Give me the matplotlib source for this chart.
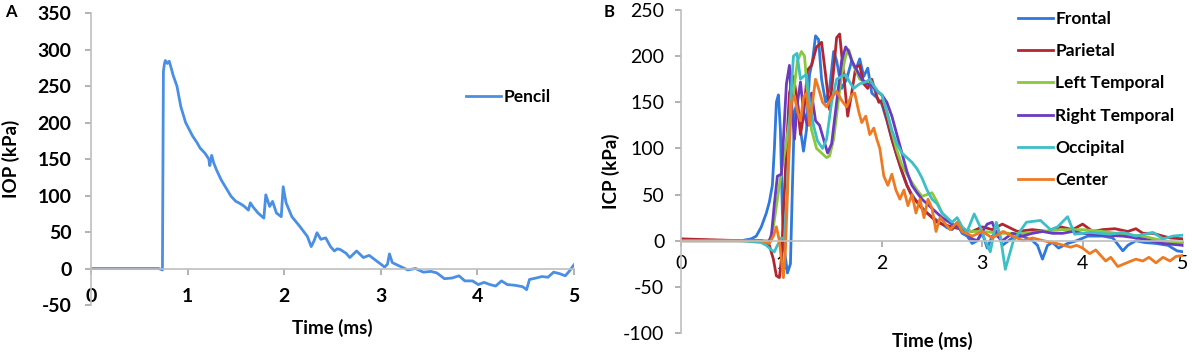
import matplotlib
matplotlib.use("Agg")
import matplotlib.pyplot as plt

plt.rcParams['font.family'] = ['Lato', 'DejaVu Sans']
plt.rcParams['axes.unicode_minus'] = False

# ---- panel A: intraocular pressure, pencil ----
pencil_t = [0, 0.5, 0.7, 0.74, 0.75, 0.76, 0.77, 0.79, 0.81, 0.83, 0.85, 0.89, 0.93, 0.98, 1.05,
            1.1, 1.13, 1.18, 1.22, 1.23, 1.25, 1.27, 1.3, 1.35, 1.4, 1.45, 1.5, 1.53, 1.58, 1.63,
            1.65, 1.68, 1.73, 1.79, 1.81, 1.85, 1.88, 1.92, 1.97, 1.99, 2.02, 2.08, 2.16, 2.24,
            2.28, 2.31, 2.34, 2.38, 2.43, 2.48, 2.52, 2.55, 2.58, 2.64, 2.68, 2.75, 2.82, 2.88,
            2.96, 3.04, 3.07, 3.09, 3.12, 3.2, 3.28, 3.36, 3.44, 3.52, 3.58, 3.66, 3.74, 3.81,
            3.87, 3.95, 4.01, 4.07, 4.13, 4.19, 4.25, 4.31, 4.39, 4.47, 4.51, 4.54, 4.61, 4.67,
            4.73, 4.79, 4.85, 4.91, 4.95, 5.0]
pencil_v = [0, 0, 0, -2, 270, 280, 285, 281, 284, 275, 265, 250, 222, 200, 182,
            172, 165, 158, 150, 141, 155, 145, 135, 121, 110, 99, 92, 90, 86, 80,
            90, 84, 76, 69, 101, 85, 92, 76, 71, 112, 90, 71, 58, 44,
            30, 38, 49, 40, 42, 30, 24, 27, 26, 21, 15, 24, 15, 18,
            10, 2, 6, 20, 8, 3, -2, 0, -5, -4, -6, -14, -13, -10,
            -17, -17, -22, -19, -22, -24, -17, -22, -23, -25, -29, -15, -13, -11,
            -12, -5, -7, -10, -4, 5]

# ---- panel B: intracranial pressure, six locations ----
frontal_t = [0, 0.3, 0.6, 0.7, 0.75, 0.8, 0.85, 0.88, 0.91, 0.93, 0.95, 0.97, 0.99, 1.01, 1.03,
             1.06, 1.09, 1.11, 1.13, 1.16, 1.19, 1.22, 1.25, 1.28, 1.31, 1.34, 1.37, 1.4, 1.44,
             1.48, 1.52, 1.55, 1.6, 1.65, 1.7, 1.74, 1.78, 1.82, 1.86, 1.9, 1.95, 2.0, 2.05,
             2.1, 2.15, 2.2, 2.25, 2.3, 2.35, 2.4, 2.45, 2.5, 2.55, 2.6, 2.65, 2.7, 2.75, 2.8,
             2.85, 2.9, 2.95, 3.0, 3.05, 3.1, 3.15, 3.2, 3.3, 3.4, 3.5, 3.55, 3.6, 3.65, 3.7,
             3.76, 3.85, 3.94, 4.05, 4.2, 4.3, 4.4, 4.45, 4.53, 4.62, 4.73, 4.85, 4.94, 5.0]
frontal_v = [0, 0, 0, 2, 5, 15, 30, 42, 60, 100, 150, 158, 120, 30, -10,
             -35, -25, 60, 140, 150, 120, 97, 120, 180, 195, 222, 218, 175, 150,
             165, 205, 195, 165, 175, 195, 185, 197, 178, 187, 160, 155, 148, 130,
             110, 92, 75, 60, 50, 42, 36, 30, 26, 22, 18, 14, 12, 18, 8,
             5, -3, 0, 8, -8, 5, 10, -5, 3, 5, 0, -5, -20, -5, -2,
             -8, -3, 0, 5, 5, 3, -11, -5, 0, -2, -3, -5, -11, -12]

parietal_t = [0, 0.6, 0.8, 0.88, 0.92, 0.95, 0.98, 1.0, 1.02, 1.05, 1.08, 1.12, 1.16, 1.19,
              1.22, 1.26, 1.3, 1.35, 1.4, 1.44, 1.48, 1.52, 1.55, 1.58, 1.62, 1.66, 1.7, 1.74,
              1.78, 1.82, 1.86, 1.9, 1.94, 1.97, 2.0, 2.05, 2.1, 2.15, 2.2, 2.25, 2.3, 2.35,
              2.4, 2.45, 2.5, 2.55, 2.6, 2.7, 2.8, 2.9, 3.0, 3.1, 3.2, 3.35, 3.5, 3.65, 3.78,
              3.9, 4.0, 4.1, 4.2, 4.32, 4.45, 4.53, 4.6, 4.7, 4.8, 4.87, 5.0]
parietal_v = [2, 0, 0, -5, -20, -38, -40, -20, 30, 100, 160, 178, 150, 115,
              135, 185, 190, 210, 215, 180, 142, 185, 220, 224, 180, 135, 160, 188,
              190, 170, 165, 175, 160, 150, 152, 132, 110, 92, 75, 60, 48, 42,
              35, 30, 25, 20, 18, 15, 12, 10, 15, 12, 18, 10, 12, 10, 15,
              12, 18, 10, 12, 13, 10, 13, 8, 8, 5, 3, 2]

left_t = [0, 0.6, 0.8, 0.88, 0.92, 0.96, 1.0, 1.04, 1.08, 1.12, 1.16, 1.2, 1.23, 1.26, 1.3,
          1.35, 1.4, 1.45, 1.48, 1.52, 1.56, 1.6, 1.64, 1.67, 1.72, 1.78, 1.84, 1.9, 1.95, 2.0,
          2.05, 2.1, 2.15, 2.2, 2.25, 2.3, 2.35, 2.4, 2.45, 2.5, 2.55, 2.6, 2.7, 2.8, 2.9, 3.0,
          3.2, 3.4, 3.6, 3.8, 4.0, 4.2, 4.4, 4.6, 4.8, 5.0]
left_v = [0, 0, 0, 0, 15, 45, 75, 100, 130, 160, 195, 205, 200, 160, 120,
          100, 95, 90, 92, 110, 145, 180, 200, 207, 190, 175, 172, 168, 162, 158,
          140, 118, 98, 82, 72, 63, 55, 48, 50, 52, 42, 30, 18, 12, 10, 10,
          8, 8, 10, 12, 12, 10, 7, 5, 0, -3]

right_t = [0, 0.6, 0.8, 0.87, 0.9, 0.93, 0.96, 1.0, 1.02, 1.05, 1.08, 1.1, 1.13, 1.16, 1.19,
           1.22, 1.26, 1.3, 1.34, 1.38, 1.42, 1.46, 1.5, 1.55, 1.6, 1.64, 1.67, 1.7, 1.75,
           1.8, 1.85, 1.9, 1.95, 2.0, 2.05, 2.1, 2.15, 2.2, 2.25, 2.3, 2.35, 2.4, 2.45, 2.5,
           2.6, 2.7, 2.8, 2.85, 2.9, 2.95, 3.0, 3.05, 3.1, 3.15, 3.2, 3.3, 3.4, 3.5, 3.6,
           3.7, 3.8, 3.9, 4.0, 4.2, 4.4, 4.6, 4.8, 5.0]
right_v = [0, 0, 0, -2, 5, 40, 70, 72, 110, 170, 190, 150, 110, 150, 172,
           140, 125, 160, 130, 125, 110, 95, 105, 150, 195, 210, 205, 195, 185,
           175, 170, 168, 162, 158, 150, 135, 115, 95, 75, 60, 52, 45, 40, 35,
           25, 18, 12, 8, 2, 0, 10, 18, 20, 5, 0, 8, 5, 8, 10,
           8, 8, 10, 8, 6, 5, 2, -3, -5]

occ_t = [0, 0.6, 0.8, 0.85, 0.9, 0.93, 0.96, 1.0, 1.03, 1.06, 1.09, 1.12, 1.155, 1.19, 1.22,
         1.25, 1.28, 1.32, 1.36, 1.41, 1.45, 1.5, 1.55, 1.6, 1.64, 1.68, 1.72, 1.78, 1.84,
         1.88, 1.92, 1.96, 2.0, 2.05, 2.1, 2.15, 2.2, 2.25, 2.3, 2.35, 2.4, 2.45, 2.5, 2.55,
         2.6, 2.65, 2.7, 2.75, 2.8, 2.85, 2.92, 2.98, 3.03, 3.08, 3.14, 3.18, 3.23, 3.31,
         3.44, 3.58, 3.68, 3.75, 3.85, 3.92, 4.07, 4.27, 4.4, 4.53, 4.7, 4.8, 4.9, 5.0]
occ_v = [0, 0, -2, -5, -10, -12, -5, 3, 2, 60, 150, 200, 203, 175, 178,
         180, 150, 125, 108, 100, 110, 150, 175, 178, 180, 172, 165, 170, 172,
         175, 168, 162, 158, 140, 120, 105, 95, 90, 85, 78, 68, 55, 45, 40,
         30, 25, 20, 25, 15, 10, 29, 15, 0, -12, 20, 5, -31, 0,
         20, 22, 12, 15, 26, 7, 9, 7, 9, 5, 9, 2, 5, 6]

center_t = [0, 0.6, 0.8, 0.88, 0.92, 0.95, 0.98, 1.0, 1.02, 1.04, 1.07, 1.1, 1.13, 1.16, 1.19,
            1.22, 1.25, 1.28, 1.31, 1.34, 1.37, 1.41, 1.45, 1.5, 1.55, 1.6, 1.65, 1.7, 1.73,
            1.77, 1.8, 1.84, 1.88, 1.92, 1.95, 1.98, 2.02, 2.06, 2.1, 2.14, 2.18, 2.22, 2.26,
            2.3, 2.34, 2.38, 2.42, 2.46, 2.5, 2.54, 2.58, 2.62, 2.68, 2.75, 2.8, 2.9, 3.0,
            3.1, 3.21, 3.3, 3.41, 3.5, 3.61, 3.74, 3.88, 3.94, 4.0, 4.07, 4.13, 4.23, 4.28,
            4.35, 4.46, 4.53, 4.6, 4.66, 4.73, 4.8, 4.87, 4.93, 5.0]
center_v = [0, 0, 0, -3, 5, 15, 0, -20, -40, -10, 80, 150, 157, 140, 130,
            155, 160, 125, 150, 175, 165, 150, 145, 155, 162, 152, 145, 158, 160,
            140, 128, 135, 115, 122, 110, 100, 70, 60, 72, 55, 45, 55, 38,
            50, 30, 45, 25, 45, 35, 10, 25, 20, 12, 20, 10, 5, 10,
            3, 10, 5, 0, 3, 0, -3, -7, -5, -8, -14, -10, -22, -18,
            -28, -23, -20, -22, -18, -24, -18, -22, -17, -16]

icp_series = [
    ('Frontal', frontal_t, frontal_v, '#2F78DC'),
    ('Parietal', parietal_t, parietal_v, '#B3262F'),
    ('Left Temporal', left_t, left_v, '#8CC83C'),
    ('Right Temporal', right_t, right_v, '#6A3AC2'),
    ('Occipital', occ_t, occ_v, '#3DBFC8'),
    ('Center', center_t, center_v, '#EE7A22'),
]

fig = plt.figure(figsize=(11.92, 3.53), dpi=100)
axA = fig.add_axes([0.0763, 0.136, 0.4052, 0.827])
axB = fig.add_axes([0.5713, 0.0567, 0.4212, 0.915])


def style_axes(ax, bold_ticks, xpad, ypad):
    for s in ['top', 'right']:
        ax.spines[s].set_visible(False)
    ax.spines['left'].set_color('#BFBFBF')
    ax.spines['bottom'].set_color('#BFBFBF')
    ax.spines['bottom'].set_position(('data', 0))
    ax.spines['left'].set_linewidth(1.2)
    ax.spines['bottom'].set_linewidth(1.2)
    ax.tick_params(colors='#A6A6A6', labelcolor='black', length=4, width=1.2, labelsize=14)
    ax.tick_params(axis='x', pad=xpad)
    ax.tick_params(axis='y', pad=ypad)
    ax.set_xlim(0, 5)
    ax.set_xticks(range(0, 6))
    if bold_ticks:
        for lab in ax.get_xticklabels() + ax.get_yticklabels():
            lab.set_fontweight('bold')


axA.plot(pencil_t, pencil_v, color='#4A8FE3', lw=2.0, label='Pencil')
axA.set_ylim(-50, 350)
axA.set_yticks(range(-50, 351, 50))
style_axes(axA, True, 10.0, 10.0)
axA.set_xlabel('Time (ms)', fontsize=13.5, fontweight='bold')
axA.set_ylabel('IOP (kPa)', fontsize=13.5, fontweight='bold')
axA.xaxis.set_label_coords(0.5, -0.046)
axA.yaxis.set_label_coords(-0.147, 0.5)
axA.legend(loc='upper left', bbox_to_anchor=(0.745, 0.792), frameon=False,
           handlelength=2.0, handletextpad=0.15, prop={'weight': 'bold', 'size': 12.5})

for name, t, v, c in icp_series:
    axB.plot(t, v, color=c, lw=2.0, label=name)
axB.set_ylim(-100, 250)
axB.set_yticks(range(-100, 251, 50))
style_axes(axB, False, 6.5, 8.0)
axB.set_xlabel('Time (ms)', fontsize=13.5, fontweight='bold')
axB.set_ylabel('ICP (kPa)', fontsize=13.5, fontweight='bold')
axB.xaxis.set_label_coords(0.5, 0.003)
axB.yaxis.set_label_coords(-0.122, 0.5)
axB.legend(loc='upper left', bbox_to_anchor=(0.64, 1.046), frameon=False,
           handlelength=2.0, handletextpad=0.15, labelspacing=0.94,
           prop={'weight': 'bold', 'size': 12.5})

fig.text(0.004, 0.965, 'A', fontsize=12, fontweight='bold', va='center')
fig.text(0.506, 0.967, 'B', fontsize=12, fontweight='bold', va='center')

fig.savefig('out.png', dpi=100)
